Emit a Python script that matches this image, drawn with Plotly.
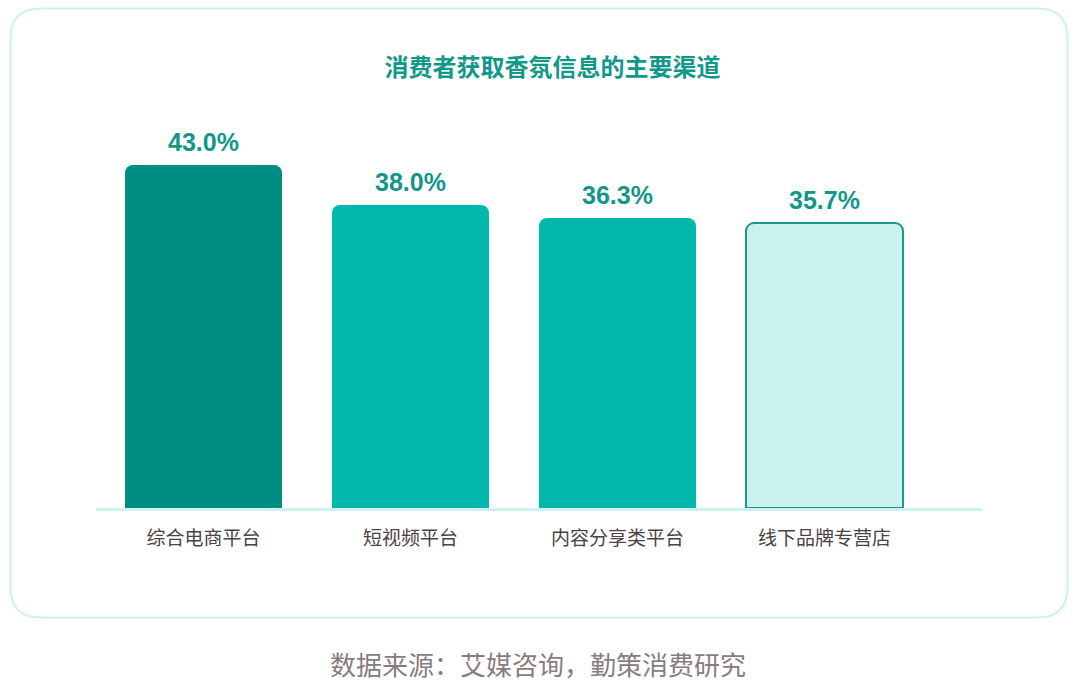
import plotly.graph_objects as go

categories = ["综合电商平台", "短视频平台", "内容分享类平台", "线下品牌专营店"]
values = [43.0, 38.0, 36.3, 35.7]
bar_colors = ["#008e82", "#00b8ac", "#00b8ac", "#cbf1ef"]
line_colors = ["#008e82", "#00b8ac", "#00b8ac", "#17998b"]
line_widths = [0, 0, 0, 2]
value_labels = [f"{v:.1f}%" for v in values]

title_text = "消费者获取香氛信息的主要渠道"
source_text = "数据来源：艾媒咨询，勤策消费研究"

W, H = 1080, 684
x0_px, x1_px = 96, 982
base_px, top_px = 508, 100
px_per_unit = 7.977

fig = go.Figure()
fig.add_trace(go.Bar(
    x=list(range(len(categories))),
    y=values,
    width=0.758,
    marker=dict(color=bar_colors, line=dict(color=line_colors, width=line_widths),
                cornerradius=8),
    hoverinfo="skip",
))

for i, (v, t) in enumerate(zip(values, value_labels)):
    fig.add_annotation(x=i, y=v, xref="x", yref="y", text=t, showarrow=False,
                       yanchor="middle", yshift=23,
                       font=dict(family="Liberation Sans, Arial, sans-serif", size=25,
                                 color="#12968a", weight="bold"))

# card border (rounded rectangle in paper coords)
L, T, R, B, rad = 10.5, 8.5, 1067.5, 617.5, 30
def px(x): return x / W
def py(y): return 1 - y / H
path = (f"M {px(L+rad)},{py(T)} L {px(R-rad)},{py(T)} Q {px(R)},{py(T)} {px(R)},{py(T+rad)} "
        f"L {px(R)},{py(B-rad)} Q {px(R)},{py(B)} {px(R-rad)},{py(B)} "
        f"L {px(L+rad)},{py(B)} Q {px(L)},{py(B)} {px(L)},{py(B-rad)} "
        f"L {px(L)},{py(T+rad)} Q {px(L)},{py(T)} {px(L+rad)},{py(T)} Z")
fig.add_shape(type="path", path=path, xref="paper", yref="paper",
              line=dict(color="#cdf1ef", width=2), fillcolor="rgba(0,0,0,0)", layer="below")

fig.add_annotation(x=537.5 / W, y=py(663), xref="paper", yref="paper", text=source_text,
                   showarrow=False, xanchor="center", yanchor="middle",
                   font=dict(family="Noto Sans CJK SC", size=26, color="#877d7e"))

span = (x1_px - x0_px) / 207.0
r0 = -(203.5 - x0_px) / 207.0
fig.update_layout(
    width=W, height=H,
    margin=dict(l=0, r=0, t=0, b=0),
    paper_bgcolor="white", plot_bgcolor="white",
    showlegend=False,
    title=dict(text=title_text, x=552.5 / W, xanchor="center", y=py(68), yanchor="middle",
               font=dict(family="Noto Sans CJK SC", size=24, color="#11988a", weight="bold")),
    xaxis=dict(domain=[x0_px / W, x1_px / W], range=[r0, r0 + span],
               tickmode="array", tickvals=list(range(len(categories))), ticktext=categories,
               showline=True, linecolor="#cdf1ef", linewidth=3, showgrid=False, zeroline=False,
               ticks="", ticklabelstandoff=11,
               tickfont=dict(family="Noto Sans CJK SC", size=19, color="#4a4243")),
    yaxis=dict(domain=[py(base_px), py(top_px)], range=[0, (base_px - top_px) / px_per_unit],
               visible=False, showgrid=False, zeroline=False),
    bargap=0,
)

fig.write_html("out.html")
